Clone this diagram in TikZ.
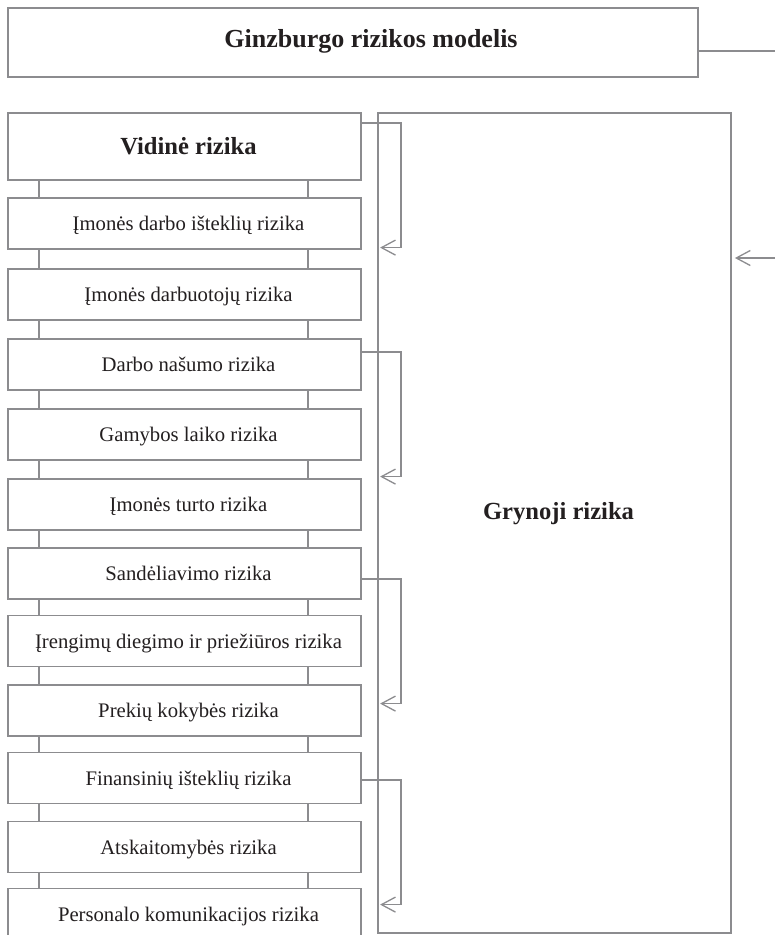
\documentclass[tikz,border=0pt]{standalone}
\usepackage{fontspec}
\setmainfont{Liberation Serif}
\usetikzlibrary{calc,arrows.meta}
\definecolor{edge}{RGB}{140,140,143}
\definecolor{ink}{RGB}{35,31,32}
\begin{document}
\begin{tikzpicture}[x=1pt,y=-1pt,
  box/.style={draw=edge,line width=1.8pt,fill=white,rectangle,inner sep=0pt,text=ink},
  headbox/.style={box,font=\bfseries\fontsize{24.6}{28}\selectfont},
  riskbox/.style={box,minimum width=353pt,minimum height=51pt,
    font=\fontsize{20.7}{24}\selectfont,text height=19pt,text depth=5pt},
  link/.style={draw=edge,line width=1.3pt},
  flow/.style={link,-{Straight Barb[length=14pt,width=15pt]}}
]
\useasboundingbox (0,0) rectangle (775,935);

% title
\node[box,minimum width=690pt,minimum height=69pt,
  font=\bfseries\fontsize{26}{30}\selectfont,text height=14pt,text depth=5pt]
  (title) at (353,42.5) {\hspace*{36pt}Ginzburgo rizikos modelis};

% pure risk block
\node[headbox,minimum width=353pt,minimum height=820pt,text height=5pt,text depth=12pt]
  (big) at (554.5,523) {\hspace*{8pt}Grynoji rizika};

% internal risk column
\node[headbox,minimum width=353pt,minimum height=67pt,text height=20pt,text depth=5pt]
  (b0) at (184.5,146.5) {\hspace*{8pt}Vidinė rizika};
\node[riskbox] (b1)  at (184.5,223.5) {\hspace*{8pt}Įmonės darbo išteklių rizika};
\node[riskbox] (b2)  at (184.5,294.5) {\hspace*{8pt}Įmonės darbuotojų rizika};
\node[riskbox] (b3)  at (184.5,364.5) {\hspace*{8pt}Darbo našumo rizika};
\node[riskbox] (b4)  at (184.5,434.5) {\hspace*{8pt}Gamybos laiko rizika};
\node[riskbox] (b5)  at (184.5,504.5) {\hspace*{8pt}Įmonės turto rizika};
\node[riskbox] (b6)  at (184.5,573.5) {\hspace*{8pt}Sandėliavimo rizika};
\node[riskbox] (b7)  at (184.5,641)   {\hspace*{8pt}Įrengimų diegimo ir priežiūros rizika};
\node[riskbox] (b8)  at (184.5,710.5) {\hspace*{8pt}Prekių kokybės rizika};
\node[riskbox] (b9)  at (184.5,778)   {\hspace*{8pt}Finansinių išteklių rizika};
\node[riskbox] (b10) at (184.5,847)   {\hspace*{8pt}Atskaitomybės rizika};
\node[riskbox] (b11) at (184.5,914)   {\hspace*{8pt}Personalo komunikacijos rizika};

% double links down the column
\foreach \a/\b in {b0/b1,b1/b2,b2/b3,b3/b4,b4/b5,b5/b6,b6/b7,b7/b8,b8/b9,b9/b10,b10/b11}{
  \draw[link] ($(\a.south west)+(32,0)$) -- ($(\b.north west)+(32,0)$);
  \draw[link] ($(\a.south east)+(-54,0)$) -- ($(\b.north east)+(-54,0)$);
}

% brackets feeding the pure risk block
\coordinate (gl) at ($(big.west)+(3,0)$);
\foreach \n/\d in {b0/11,b3/14,b6/32,b9/28.5}{
  \draw[flow] ($(\n.north east)+(0,\d)$) -- ++(39,0) -- ++(0,124.5) coordinate (e) -- (e -| gl);
}

% outer link from the title into the pure risk block
\coordinate (tout) at (775,51);
\draw[box] ($(title.east)+(0,8.5)$) -- (tout);
\coordinate (rin) at (775,258);
\coordinate (gr) at ($(big.east)+(3,0)$);
\draw[flow] (rin) -- (rin -| gr);
\end{tikzpicture}
\end{document}
